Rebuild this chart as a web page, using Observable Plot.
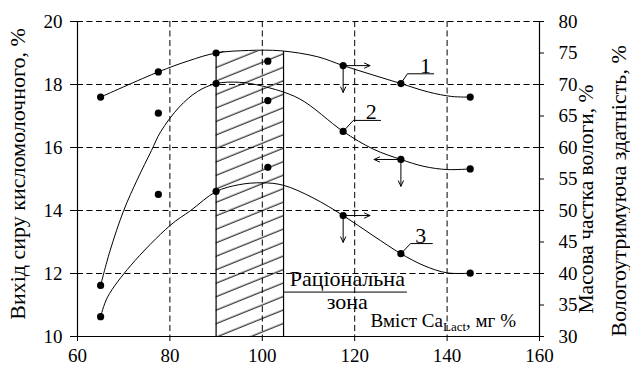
<!DOCTYPE html>
<html><head><meta charset="utf-8">
<script src="https://cdn.jsdelivr.net/npm/d3@7"></script>
<script src="https://cdn.jsdelivr.net/npm/@observablehq/plot@0.6"></script>
<style>html,body{margin:0;padding:0;background:#fff;} svg text, svg tspan {font-family: "Liberation Serif", "DejaVu Serif", serif !important;}</style>
</head><body><div id="chart"></div>
<script>
// ---- axes / ticks ----
const xTicks = [60, 80, 100, 120, 140, 160];
const leftTicks = [10, 12, 14, 16, 18, 20];
const rightTicks = [30, 35, 40, 45, 50, 55, 60, 65, 70, 75, 80];
const gridXValues = [80, 100, 120, 140];
const gridYValues = [12, 14, 16, 18, 20];

// ---- measured points ----
const pointX = [65, 77.5, 90, 117.5, 130, 145];
const points1 = [17.6, 18.4, 19.0, 18.6, 18.03, 17.6];
const points2 = [11.62, 17.09, 18.03, 16.51, 15.62, 15.32];
const points3 = [10.63, 14.51, 14.61, 13.84, 12.63, 12.01];
const extraX = [101.2, 101.2, 101.2];
const extraY = [18.74, 17.49, 15.37];

// ---- fitted curves ----
const curve1X = [65, 77.5, 84, 90, 97, 104, 112, 117.5, 124, 130, 136, 141, 145];
const curve1Y = [17.6, 18.4, 18.75, 19.0, 19.08, 19.07, 18.88, 18.6, 18.3, 18.03, 17.76, 17.62, 17.6];
const curve2X = [65, 67, 70, 73, 76, 78, 82, 86, 90, 95, 100, 108, 117.5, 124, 130, 135, 140, 145];
const curve2Y = [11.62, 12.7, 14.0, 15.0, 15.9, 16.5, 17.28, 17.78, 18.03, 18.07, 17.95, 17.55, 16.51, 15.95, 15.62, 15.4, 15.3, 15.32];
const curve3X = [65, 66.5, 71.5, 80, 84.5, 90, 95, 100, 104.6, 111, 117.5, 124, 130, 135, 140, 145];
const curve3Y = [10.63, 11.25, 12.25, 13.52, 14.0, 14.6, 14.82, 14.88, 14.8, 14.4, 13.84, 13.2, 12.63, 12.25, 12.02, 12.01];

// ---- annotations ----
const zoneX1 = 90, zoneX2 = 104.6, zoneTop = 19.05;
const arrowFromX = [117.5, 117.5, 130, 130, 117.5, 117.5];
const arrowFromY = [18.6, 18.6, 15.62, 15.62, 13.84, 13.84];
const arrowDir = ["right", "down", "left", "down", "right", "down"];
const labelNames = ["1", "2", "3"];
const labelFromX = [130, 117.5, 130];
const labelFromY = [18.03, 16.51, 12.63];
const labelKneeX = [131.4, 119.7, 132.1];
const labelKneeY = [18.34, 16.86, 12.95];
const labelEndX = [137.1, 125.6, 136.8];
const labelTextX = [135.3, 123.6, 134.3];
const zoneLabel1 = "Раціональна", zoneLabel2 = "зона";
const zoneLabelX = 118.4, zoneLabel1Y = 11.59, zoneLabel2Y = 10.86;
const zoneUnderY = 11.41, zoneUnderX1 = 104.6, zoneUnderX2 = 131.4;
const xLabel = "Вміст Ca", xLabelSub = "Lact", xLabelRest = ", мг %";
const xLabelX = 123.4, xLabelY = 10.3;
const yLabelLeft = "Вихід сиру кисломолочного, %";
const yLabelRight1 = "Масова частка вологи, %";
const yLabelRight2 = "Вологоутримуюча здатність, %";

// ---- build tables ----
const toRows = (xs, ys) => xs.map((x, i) => ({x, y: ys[i]}));
const pts = [...toRows(pointX, points1), ...toRows(pointX, points2), ...toRows(pointX, points3), ...toRows(extraX, extraY)];
const curves = [
  ...toRows(curve1X, curve1Y).map(d => ({...d, s: 1})),
  ...toRows(curve2X, curve2Y).map(d => ({...d, s: 2})),
  ...toRows(curve3X, curve3Y).map(d => ({...d, s: 3}))
];
const ARROW_DX = 5.8, ARROW_DY = 0.85;
const arrows = arrowFromX.map((x, i) => {
  const y = arrowFromY[i], d = arrowDir[i];
  return {x, y,
    x2: d === "right" ? x + ARROW_DX : d === "left" ? x - ARROW_DX : x,
    y2: d === "down" ? y - ARROW_DY : y};
});
const leaders = labelNames.flatMap((n, i) => [
  {n, x: labelFromX[i], y: labelFromY[i]},
  {n, x: labelKneeX[i], y: labelKneeY[i]},
  {n, x: labelEndX[i], y: labelKneeY[i]}
]);
const labelRows = labelNames.map((n, i) => ({n, x: labelTextX[i], y: labelKneeY[i]}));
const rightToLeft = v => 10 + (v - 30) / 5;
const leftToRight = d => Math.round(30 + (d - 10) * 5);

const dash = "6,3.5";

const plot = Plot.plot({
  width: 630, height: 365,
  marginLeft: 77, marginRight: 91, marginTop: 21, marginBottom: 29,
  style: "font-size: 19px; background: white; color: black;",
  x: {domain: [60, 160]},
  y: {domain: [10, 20]},
  marks: [
    Plot.gridX(gridXValues, {stroke: "black", strokeOpacity: 1, strokeDasharray: dash}),
    Plot.gridY(gridYValues, {stroke: "black", strokeOpacity: 1, strokeDasharray: dash}),
    Plot.rect([0], {x1: zoneX1, x2: zoneX2, y1: 10, y2: zoneTop, fill: "url(#hatch)"}),
    Plot.ruleX([zoneX1, zoneX2], {y1: 10, y2: zoneTop, stroke: "black", strokeWidth: 1.2}),
    Plot.ruleX([60, 160], {stroke: "black", strokeWidth: 1.2}),
    Plot.ruleY([10], {stroke: "black", strokeWidth: 1.2}),
    Plot.axisX({ticks: xTicks, tickSize: 5, tickPadding: 7, label: null}),
    Plot.axisY({ticks: leftTicks, tickSize: 7, tickPadding: 8, label: null}),
    Plot.axisY(rightTicks.map(rightToLeft), {anchor: "right", tickSize: 4, tickPadding: 15, tickFormat: leftToRight, label: null}),
    Plot.line(curves, {x: "x", y: "y", z: "s", curve: "catmull-rom", stroke: "black", strokeWidth: 1}),
    Plot.dot(pts, {x: "x", y: "y", r: 3.6, fill: "black", stroke: "none"}),
    Plot.arrow(arrows, {x1: "x", y1: "y", x2: "x2", y2: "y2", stroke: "black", strokeWidth: 1, headLength: 9, headAngle: 50}),
    Plot.line(leaders, {x: "x", y: "y", z: "n", stroke: "black", strokeWidth: 1}),
    Plot.text(labelRows, {x: "x", y: "y", text: "n", lineAnchor: "bottom", dy: -1, fontSize: 22}),
    Plot.text([zoneLabel1], {x: zoneLabelX, y: zoneLabel1Y, lineAnchor: "bottom", fontSize: 22}),
    Plot.ruleY([zoneUnderY], {x1: zoneUnderX1, x2: zoneUnderX2, stroke: "black", strokeWidth: 1}),
    Plot.text([zoneLabel2], {x: zoneLabelX, y: zoneLabel2Y, lineAnchor: "bottom", fontSize: 22}),
    Plot.text([xLabel + xLabelSub + xLabelRest], {x: xLabelX, y: xLabelY, lineAnchor: "bottom", textAnchor: "start", fontSize: 19}),
    Plot.text([yLabelLeft], {frameAnchor: "left", textAnchor: "middle", rotate: -90, dx: -60, dy: -5, fontSize: 22}),
    Plot.text([yLabelRight1], {frameAnchor: "right", textAnchor: "middle", rotate: -90, dx: 47, dy: 20, fontSize: 21.5}),
    Plot.text([yLabelRight2], {frameAnchor: "right", textAnchor: "middle", rotate: -90, dx: 79, dy: 12, fontSize: 22})
  ]
});

const svg = d3.select(plot);
svg.attr("font-family", "Liberation Serif");
svg.selectAll("text").style("font-family", "'Liberation Serif', 'DejaVu Serif', serif");

// hatch pattern
const defs = svg.insert("defs", ":first-child");
const pat = defs.append("pattern").attr("id", "hatch").attr("patternUnits", "userSpaceOnUse")
  .attr("width", 20).attr("height", 12.5).attr("patternTransform", "rotate(-22)");
pat.append("line").attr("x1", -1).attr("x2", 21).attr("y1", 6).attr("y2", 6)
  .attr("stroke", "black").attr("stroke-width", 1);

// subscript in x label
svg.selectAll("text").filter(function() { return this.textContent === xLabel + xLabelSub + xLabelRest; })
  .each(function() {
    const t = d3.select(this);
    t.text(null);
    t.append("tspan").text(xLabel);
    t.append("tspan").attr("font-size", 13).attr("dy", 4).text(xLabelSub);
    t.append("tspan").attr("dy", -4).text(xLabelRest);
  });

document.getElementById("chart").appendChild(plot);
</script>
</body></html>
